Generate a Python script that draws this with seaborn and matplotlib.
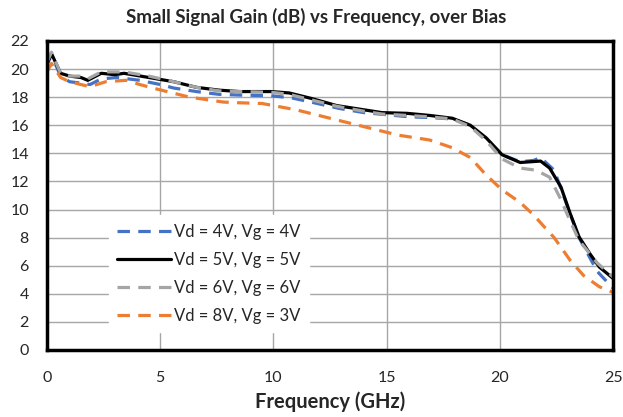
import pandas as pd
import numpy as np
import seaborn as sns
import matplotlib.pyplot as plt

# values
freq_4v = [0, 0.2, 0.6, 1.0, 1.5, 1.9, 2.4, 3.1, 4.1, 5.0, 5.6, 6.6, 7.6, 8.5, 9.9, 10.8, 11.8, 12.9,
           14.0, 15.0, 16.0, 16.9, 17.9, 18.7, 19.4, 20.1, 20.9, 21.5, 21.8, 22.4, 22.7, 23.1, 23.5,
           24.0, 24.3, 25.0]
gain_4v = [20.3, 21.0, 19.5, 19.1, 19.0, 18.9, 19.3, 19.4, 19.2, 18.9, 18.65, 18.4, 18.2, 18.15, 18.1, 17.95,
           17.6, 17.2, 16.9, 16.75, 16.6, 16.55, 16.45, 16.0, 15.0, 13.9, 13.4, 13.5, 13.7, 12.8, 11.5, 9.7,
           8.0, 6.5, 5.6, 4.4]

freq_5v = [0, 0.2, 0.6, 1.0, 1.5, 1.8, 2.4, 3.0, 3.4, 4.5, 5.6, 6.6, 7.6, 8.5, 9.9, 10.7, 11.7, 12.8,
           14.0, 14.8, 15.9, 16.9, 17.9, 18.7, 19.4, 20.1, 20.9, 21.8, 22.2, 22.7, 23.1, 23.5, 24.0,
           24.4, 25.0]
gain_5v = [20.4, 21.1, 19.7, 19.5, 19.4, 19.2, 19.7, 19.6, 19.7, 19.4, 19.1, 18.7, 18.5, 18.4, 18.4, 18.3,
           17.9, 17.4, 17.1, 16.9, 16.85, 16.7, 16.5, 16.0, 15.1, 13.9, 13.35, 13.45, 12.95, 11.6, 9.75,
           8.05, 6.8, 5.9, 5.1]

freq_6v = [0, 0.2, 0.6, 1.0, 1.5, 1.8, 2.4, 3.0, 3.4, 4.5, 5.6, 6.6, 7.6, 8.5, 9.9, 10.7, 11.7, 12.8,
           14.0, 14.8, 15.9, 16.9, 17.9, 18.7, 19.4, 20.1, 20.9, 21.6, 22.2, 22.7, 23.1, 23.5, 24.3, 25.0]
gain_6v = [20.5, 21.2, 19.7, 19.5, 19.5, 19.3, 19.8, 19.8, 19.8, 19.5, 19.1, 18.7, 18.45, 18.4, 18.35, 18.2,
           17.8, 17.35, 17.0, 16.8, 16.7, 16.6, 16.45, 15.9, 14.9, 13.6, 12.95, 12.8, 12.3, 10.7, 9.2,
           7.8, 6.2, 5.2]

freq_8v = [0, 0.2, 0.6, 1.0, 1.5, 1.9, 2.6, 3.5, 4.1, 4.8, 6.3, 7.8, 8.5, 9.5, 11.0, 12.5, 14.0, 15.5,
           16.9, 17.9, 18.7, 19.4, 20.1, 20.9, 21.5, 22.0, 22.4, 23.1, 23.7, 24.4, 25.0]
gain_8v = [19.8, 20.4, 19.4, 19.1, 18.9, 18.75, 19.1, 19.2, 18.9, 18.6, 18.0, 17.65, 17.6, 17.55, 17.1, 16.5,
           15.9, 15.3, 14.95, 14.4, 13.7, 12.45, 11.4, 10.5, 9.6, 8.7, 8.0, 6.4, 5.3, 4.5, 4.1]

labels = ["Vd = 4V, Vg = 4V", "Vd = 5V, Vg = 5V", "Vd = 6V, Vg = 6V", "Vd = 8V, Vg = 3V"]
colors = ["#4472C4", "#000000", "#A5A5A5", "#ED7D31"]

df = pd.concat([
    pd.DataFrame({"freq": freq_4v, "gain": gain_4v, "bias": labels[0]}),
    pd.DataFrame({"freq": freq_5v, "gain": gain_5v, "bias": labels[1]}),
    pd.DataFrame({"freq": freq_6v, "gain": gain_6v, "bias": labels[2]}),
    pd.DataFrame({"freq": freq_8v, "gain": gain_8v, "bias": labels[3]}),
])

sns.set_style("white")
plt.rcParams['font.family'] = ['Lato', 'DejaVu Sans']

fig = plt.figure(figsize=(6.23, 4.17), dpi=100)
ax = fig.add_axes([0.0754, 0.1607, 0.9086, 0.741])

dash = (3.9, 2.6)
sns.lineplot(data=df, x="freq", y="gain", hue="bias", style="bias",
             palette=dict(zip(labels, colors)),
             dashes=dict(zip(labels, [dash, "", dash, dash])),
             estimator=None, sort=False, linewidth=2.3, ax=ax)

ax.set_xlim(0, 25)
ax.set_ylim(0, 22)
ax.set_xticks(np.arange(0, 26, 5))
ax.set_yticks(np.arange(0, 23, 2))
ax.grid(True, color="#A6A6A6", linewidth=1.0)
ax.set_axisbelow(True)
ax.tick_params(length=0, labelsize=11.5)
ax.tick_params(axis="x", pad=15)
ax.tick_params(axis="y", pad=13)
for s in ax.spines.values():
    s.set_color("black")
    s.set_linewidth(2.5)

ax.set_title("Small Signal Gain (dB) vs Frequency, over Bias", fontsize=13.5, fontweight="bold",
             x=0.475, pad=13)
ax.set_xlabel("Frequency (GHz)", fontsize=14.5, fontweight="bold", labelpad=5)
ax.set_ylabel("")

leg = ax.legend(loc="lower left", bbox_to_anchor=(0.095, 0.03), fontsize=12, frameon=True,
                handlelength=3.2, handletextpad=0.2, labelspacing=0.73, borderpad=0.5)
leg.get_frame().set_facecolor("white")
leg.get_frame().set_edgecolor("white")
leg.get_frame().set_alpha(1)
leg.get_frame().set_boxstyle("square", pad=0)

fig.savefig("out.png", dpi=100)
